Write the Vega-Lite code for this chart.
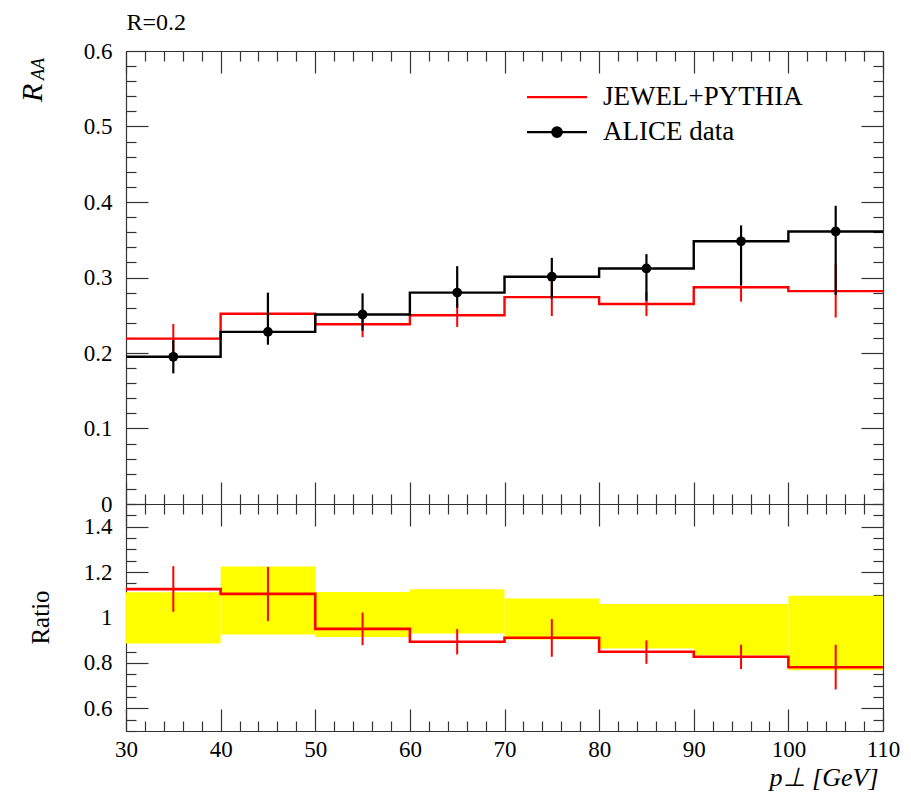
{
  "$schema": "https://vega.github.io/schema/vega-lite/v6.json",
  "background": "white",
  "padding": {"left": 17, "top": 10, "right": 10, "bottom": 10},
  "spacing": 0,
  "bounds": "flush",
  "config": {
    "view": {"stroke": null},
    "font": "Liberation Serif",
    "axis": {"grid": false, "domainColor": "#333333", "domainWidth": 1.2, "tickColor": "#333333", "tickWidth": 1.2, "labelFont": "Liberation Serif", "labelFontSize": 23, "labelColor": "black", "titleFont": "Liberation Serif", "titleColor": "black", "titleFontWeight": "normal", "labelFlush": false, "labelOverlap": false}
  },
  "datasets": {
    "bins": [
      {"xlo": 30, "xhi": 40, "xc": 35, "data": 0.195, "dlo": 0.173, "dhi": 0.217, "mc": 0.219, "mclo": 0.1995, "mchi": 0.2385, "ratio": 1.125, "rlo": 1.025, "rhi": 1.226, "blo": 0.885, "bhi": 1.111},
      {"xlo": 40, "xhi": 50, "xc": 45, "data": 0.228, "dlo": 0.211, "dhi": 0.280, "mc": 0.252, "mclo": 0.225, "mchi": 0.279, "ratio": 1.104, "rlo": 0.984, "rhi": 1.223, "blo": 0.925, "bhi": 1.225},
      {"xlo": 50, "xhi": 60, "xc": 55, "data": 0.251, "dlo": 0.2295, "dhi": 0.279, "mc": 0.238, "mclo": 0.221, "mchi": 0.255, "ratio": 0.950, "rlo": 0.878, "rhi": 1.022, "blo": 0.914, "bhi": 1.112},
      {"xlo": 60, "xhi": 70, "xc": 65, "data": 0.280, "dlo": 0.260, "dhi": 0.315, "mc": 0.250, "mclo": 0.2345, "mchi": 0.2655, "ratio": 0.893, "rlo": 0.837, "rhi": 0.949, "blo": 0.930, "bhi": 1.125},
      {"xlo": 70, "xhi": 80, "xc": 75, "data": 0.301, "dlo": 0.272, "dhi": 0.326, "mc": 0.274, "mclo": 0.249, "mchi": 0.299, "ratio": 0.911, "rlo": 0.827, "rhi": 0.993, "blo": 0.903, "bhi": 1.084},
      {"xlo": 80, "xhi": 90, "xc": 85, "data": 0.312, "dlo": 0.269, "dhi": 0.331, "mc": 0.265, "mclo": 0.249, "mchi": 0.281, "ratio": 0.849, "rlo": 0.796, "rhi": 0.899, "blo": 0.863, "bhi": 1.060},
      {"xlo": 90, "xhi": 100, "xc": 95, "data": 0.348, "dlo": 0.290, "dhi": 0.369, "mc": 0.287, "mclo": 0.268, "mchi": 0.306, "ratio": 0.827, "rlo": 0.773, "rhi": 0.880, "blo": 0.834, "bhi": 1.060},
      {"xlo": 100, "xhi": 110, "xc": 105, "data": 0.361, "dlo": 0.277, "dhi": 0.395, "mc": 0.282, "mclo": 0.247, "mchi": 0.317, "ratio": 0.781, "rlo": 0.683, "rhi": 0.880, "blo": 0.768, "bhi": 1.096}
    ],
    "edges": [
      {"x": 30, "mc": 0.219, "data": 0.195, "ratio": 1.125},
      {"x": 40, "mc": 0.252, "data": 0.228, "ratio": 1.104},
      {"x": 50, "mc": 0.238, "data": 0.251, "ratio": 0.950},
      {"x": 60, "mc": 0.250, "data": 0.280, "ratio": 0.893},
      {"x": 70, "mc": 0.274, "data": 0.301, "ratio": 0.911},
      {"x": 80, "mc": 0.265, "data": 0.312, "ratio": 0.849},
      {"x": 90, "mc": 0.287, "data": 0.348, "ratio": 0.827},
      {"x": 100, "mc": 0.282, "data": 0.361, "ratio": 0.781},
      {"x": 110, "mc": 0.282, "data": 0.361, "ratio": 0.781}
    ]
  },
  "vconcat": [
    {
      "width": 757,
      "height": 453,
      "resolve": {"axis": {"x": "independent", "y": "independent"}},
      "layer": [
        {
          "data": {"name": "edges"},
          "mark": {"type": "line", "interpolate": "step-after", "strokeWidth": 2.4},
          "encoding": {
            "x": {"field": "x", "type": "quantitative", "scale": {"domain": [30, 110], "nice": false, "zero": false},
              "axis": {"orient": "bottom", "values": [30,32,34,36,38,40,42,44,46,48,50,52,54,56,58,60,62,64,66,68,70,72,74,76,78,80,82,84,86,88,90,92,94,96,98,100,102,104,106,108,110], "labels": false, "title": null, "domain": true,
                "tickSize": {"condition": {"test": "datum.value % 10 === 0", "value": -22}, "value": -10}}},
            "y": {"field": "mc", "type": "quantitative", "scale": {"domain": [0, 0.6], "nice": false, "zero": false},
              "axis": {"orient": "left", "values": [0,0.02,0.04,0.06,0.08,0.1,0.12,0.14,0.16,0.18,0.2,0.22,0.24,0.26,0.28,0.3,0.32,0.34,0.36,0.38,0.4,0.42,0.44,0.46,0.48,0.5,0.52,0.54,0.56,0.58,0.6], "labels": false, "domain": true,
                "tickSize": {"condition": {"test": "abs(datum.value*10 - round(datum.value*10)) < 1e-6", "value": -22}, "value": -10},
                "title": "AA", "titleFontStyle": "italic", "titleFontSize": 18, "titleAngle": -90, "titleAlign": "left", "titleBaseline": "alphabetic", "titleX": -82.5, "titleY": 28.5}},
            "color": {"datum": "JEWEL+PYTHIA", "scale": {"domain": ["JEWEL+PYTHIA", "ALICE data"], "range": ["#ff0000", "#000000"]},
              "legend": {"orient": "none", "legendX": 417.5, "legendY": 32.7, "title": null, "direction": "vertical", "padding": 0,
                "labelFont": "Liberation Serif", "labelFontSize": 27, "labelColor": "black", "labelOffset": 32.5, "labelLimit": 0, "rowPadding": 7,
                "symbolSize": 100, "symbolStrokeWidth": 2.2, "symbolType": "M-6,0H6",
                "encode": {"symbols": {"update": {
                  "shape": {"signal": "datum.value === 'ALICE data' ? 'M-6,0H6M-0.95,0A0.95,0.95 0 1,0 0.95,0A0.95,0.95 0 1,0 -0.95,0Z' : 'M-6,0H6'"},
                  "fill": {"signal": "datum.value === 'ALICE data' ? '#000000' : 'transparent'"},
                  "stroke": {"signal": "datum.value === 'ALICE data' ? '#000000' : '#ff0000'"},
                  "strokeWidth": {"value": 2.2},
                  "size": {"value": 100},
                  "opacity": {"value": 1}
                }}}}}
          }
        },
        {
          "data": {"name": "edges"},
          "mark": {"type": "line", "interpolate": "step-after", "strokeWidth": 2.4},
          "encoding": {
            "x": {"field": "x", "type": "quantitative",
              "axis": {"orient": "top", "values": [30,32,34,36,38,40,42,44,46,48,50,52,54,56,58,60,62,64,66,68,70,72,74,76,78,80,82,84,86,88,90,92,94,96,98,100,102,104,106,108,110], "labels": false, "domain": true,
                "tickSize": {"condition": {"test": "datum.value % 10 === 0", "value": -22}, "value": -10},
                "title": "R=0.2", "titleFontSize": 24, "titleAngle": 0, "titleAlign": "left", "titleBaseline": "alphabetic", "titleX": 0, "titleY": -21.5}},
            "y": {"field": "data", "type": "quantitative",
              "axis": {"orient": "right", "values": [0,0.02,0.04,0.06,0.08,0.1,0.12,0.14,0.16,0.18,0.2,0.22,0.24,0.26,0.28,0.3,0.32,0.34,0.36,0.38,0.4,0.42,0.44,0.46,0.48,0.5,0.52,0.54,0.56,0.58,0.6], "labels": false, "title": null, "domain": true,
                "tickSize": {"condition": {"test": "abs(datum.value*10 - round(datum.value*10)) < 1e-6", "value": -22}, "value": -10}}},
            "color": {"datum": "ALICE data"}
          }
        },
        {
          "data": {"name": "bins"},
          "mark": {"type": "rule", "color": "#ff0000", "strokeWidth": 2},
          "encoding": {
            "x": {"field": "xc", "type": "quantitative", "axis": null},
            "y": {"field": "mclo", "type": "quantitative", "axis": null},
            "y2": {"field": "mchi"}
          }
        },
        {
          "data": {"name": "bins"},
          "mark": {"type": "rule", "color": "#000000", "strokeWidth": 2.2},
          "encoding": {
            "x": {"field": "xc", "type": "quantitative", "axis": null},
            "y": {"field": "dlo", "type": "quantitative",
              "axis": {"orient": "left", "values": [0, 0.1, 0.2, 0.3, 0.4, 0.5, 0.6], "format": "~g", "ticks": false, "domain": false, "labelPadding": 14,
                "title": "R", "titleFontStyle": "italic", "titleFontSize": 30, "titleAngle": -90, "titleAlign": "left", "titleBaseline": "alphabetic", "titleX": -84.3, "titleY": 50.5}},
            "y2": {"field": "dhi"}
          }
        },
        {
          "data": {"name": "bins"},
          "mark": {"type": "circle", "color": "#000000", "opacity": 1, "size": 95},
          "encoding": {
            "x": {"field": "xc", "type": "quantitative", "axis": null},
            "y": {"field": "data", "type": "quantitative", "axis": null}
          }
        }
      ]
    },
    {
      "width": 757,
      "height": 227,
      "resolve": {"axis": {"x": "independent", "y": "independent"}},
      "layer": [
        {
          "data": {"name": "bins"},
          "mark": {"type": "rect", "color": "#ffff00", "opacity": 1},
          "encoding": {
            "x": {"field": "xlo", "type": "quantitative", "scale": {"domain": [30, 110], "nice": false, "zero": false},
              "axis": {"orient": "bottom", "values": [30,32,34,36,38,40,42,44,46,48,50,52,54,56,58,60,62,64,66,68,70,72,74,76,78,80,82,84,86,88,90,92,94,96,98,100,102,104,106,108,110], "labels": false, "title": null, "domain": true,
                "tickSize": {"condition": {"test": "datum.value % 10 === 0", "value": -22}, "value": -10}}},
            "x2": {"field": "xhi"},
            "y": {"field": "blo", "type": "quantitative", "scale": {"domain": [0.5, 1.5], "nice": false, "zero": false},
              "axis": {"orient": "left", "values": [0.5,0.55,0.6,0.65,0.7,0.75,0.8,0.85,0.9,0.95,1,1.05,1.1,1.15,1.2,1.25,1.3,1.35,1.4,1.45,1.5], "labels": false, "title": null, "domain": true,
                "tickSize": {"condition": {"test": "abs(datum.value*5 - round(datum.value*5)) < 1e-6", "value": -22}, "value": -10}}},
            "y2": {"field": "bhi"}
          }
        },
        {
          "mark": {"type": "rule", "color": "#222222", "strokeWidth": 1.4},
          "encoding": {
            "y": {"datum": 1, "type": "quantitative", "axis": null}
          }
        },
        {
          "data": {"name": "edges"},
          "mark": {"type": "line", "interpolate": "step-after", "strokeWidth": 2.6, "color": "#ff0000"},
          "encoding": {
            "x": {"field": "x", "type": "quantitative",
              "axis": {"orient": "top", "values": [30,32,34,36,38,40,42,44,46,48,50,52,54,56,58,60,62,64,66,68,70,72,74,76,78,80,82,84,86,88,90,92,94,96,98,100,102,104,106,108,110], "labels": false, "title": null, "domain": true,
                "tickSize": {"condition": {"test": "datum.value % 10 === 0", "value": -22}, "value": -10}}},
            "y": {"field": "ratio", "type": "quantitative",
              "axis": {"orient": "right", "values": [0.5,0.55,0.6,0.65,0.7,0.75,0.8,0.85,0.9,0.95,1,1.05,1.1,1.15,1.2,1.25,1.3,1.35,1.4,1.45,1.5], "labels": false, "title": null, "domain": true,
                "tickSize": {"condition": {"test": "abs(datum.value*5 - round(datum.value*5)) < 1e-6", "value": -22}, "value": -10}}}
          }
        },
        {
          "data": {"name": "bins"},
          "mark": {"type": "rule", "color": "#ff0000", "strokeWidth": 2},
          "encoding": {
            "x": {"field": "xc", "type": "quantitative",
              "axis": {"orient": "bottom", "values": [30, 40, 50, 60, 70, 80, 90, 100, 110], "ticks": false, "domain": false, "labelPadding": 7, "labelFlush": false,
                "title": "p⊥ [GeV]", "titleFontStyle": "italic", "titleFontSize": 26, "titleAlign": "right", "titleBaseline": "alphabetic", "titleAngle": 0, "titleX": 752, "titleY": 54}},
            "y": {"field": "rlo", "type": "quantitative",
              "axis": {"orient": "left", "values": [0.6, 0.8, 1, 1.2, 1.4], "format": "~g", "ticks": false, "domain": false, "labelPadding": 14,
                "title": "Ratio", "titleFontSize": 25, "titleAngle": -90, "titleAlign": "center", "titleBaseline": "alphabetic", "titleX": -78, "titleY": 113}},
            "y2": {"field": "rhi"}
          }
        }
      ]
    }
  ]
}
